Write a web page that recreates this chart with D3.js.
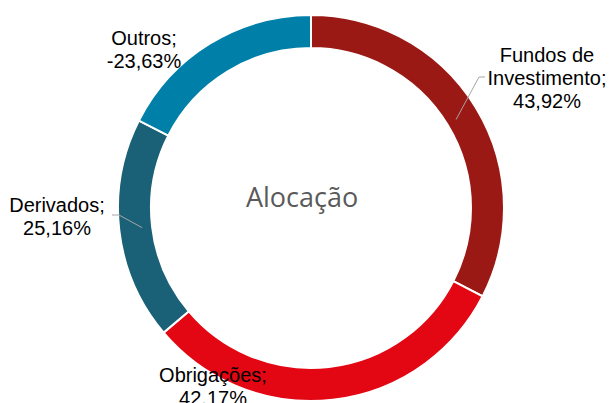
<!DOCTYPE html>
<html>

<head>
	<meta charset="utf-8">
	<script src="https://cdn.jsdelivr.net/npm/d3@7/dist/d3.min.js"></script>
	<style>
		body {
			margin: 0;
			background: #fff;
		}

		.label {
			font-family: "Liberation Sans", Arial, sans-serif;
			font-size: 20px;
			fill: #000;
		}

		.leader {
			stroke: #a6a6a6;
			stroke-width: 1;
			fill: none;
		}
	</style>
</head>

<body>
	<svg></svg>
	<script>
		// data
		var categories = ["Fundos de Investimento", "Obrigações", "Derivados", "Outros"];
		var values = [43.92, 42.17, 25.16, -23.63];
		var valueText = ["43,92%", "42.17%", "25,16%", "-23,63%"];
		var labelLines = [
			["Fundos de", "Investimento;"],
			["Obrigações;"],
			["Derivados;"],
			["Outros;"]
		];
		var colors = ["#9b1915", "#e30613", "#1a6178", "#0080a9"];

		// layout
		var width = 610;
		var height = 403;
		var cx = 311, cy = 208;
		var outerR = 193, innerR = 160;
		// label anchor (centre x, first baseline y) and optional leader end
		var labelPos = [
			{ x: 547, y: 62, leader: [[479, 77], [485, 77]] },
			{ x: 213, y: 382, leader: null },
			{ x: 57, y: 212, leader: [[119, 215], [112, 215]] },
			{ x: 144, y: 45, leader: null }
		];
		var lineH = 23;

		var svg = d3.select("svg")
			.attr("width", width)
			.attr("height", height);

		var pie = d3.pie()
			.sort(null)
			.value(d => Math.abs(d));

		var arc = d3.arc()
			.innerRadius(innerR)
			.outerRadius(outerR);

		var midArc = d3.arc()
			.innerRadius(170)
			.outerRadius(170);

		var g = svg.append("g")
			.attr("transform", "translate(" + cx + "," + cy + ")");

		var arcs = pie(values);

		g.selectAll("path.slice")
			.data(arcs)
			.enter()
			.append("path")
			.attr("class", "slice")
			.attr("d", arc)
			.style("fill", (d, i) => colors[i])
			.style("stroke", "#fff")
			.style("stroke-width", 2);

		// leader lines
		arcs.forEach((d, i) => {
			var p = labelPos[i];
			if (!p.leader) return;
			var c = midArc.centroid(d);
			var pts = [[cx + c[0], cy + c[1]]].concat(p.leader);
			svg.append("path")
				.attr("class", "leader")
				.attr("d", d3.line()(pts));
		});

		// labels
		categories.forEach((name, i) => {
			var p = labelPos[i];
			var lines = labelLines[i].concat([valueText[i]]);
			var t = svg.append("text")
				.attr("class", "label")
				.attr("text-anchor", "middle");
			lines.forEach((s, k) => {
				t.append("tspan")
					.attr("x", p.x)
					.attr("y", p.y + k * lineH)
					.text(s);
			});
		});

		// centre title
		svg.append("text")
			.attr("x", 302)
			.attr("y", 207)
			.attr("text-anchor", "middle")
			.style("font-family", "'Open Sans', sans-serif")
			.style("font-size", "27px")
			.style("fill", "#5a5a5a")
			.text("Alocação");
	</script>
</body>

</html>
